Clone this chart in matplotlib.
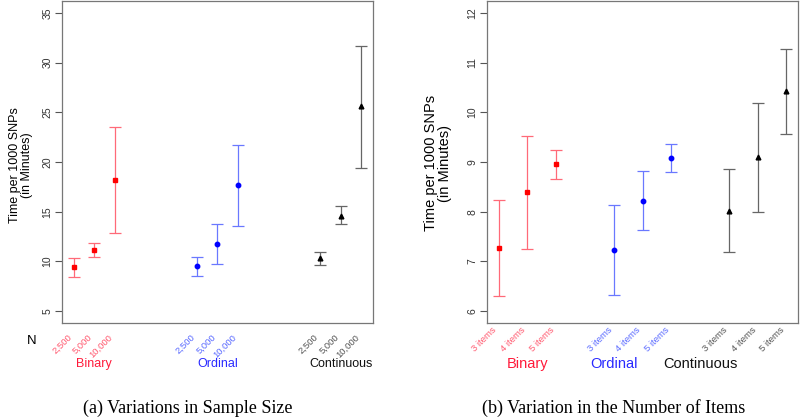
import numpy as np
import matplotlib
matplotlib.use("Agg")
import matplotlib.pyplot as plt
from matplotlib.transforms import blended_transform_factory

plt.rcParams['font.family'] = ['Liberation Sans', 'DejaVu Sans']

# Panel (a): sample size
size_labels = ["2,500", "5,000", "10,000"]
bin_n_mean = [9.4, 11.15, 18.2]
bin_n_lo = [8.45, 10.45, 12.9]
bin_n_hi = [10.3, 11.85, 23.5]
ord_n_mean = [9.5, 11.7, 17.7]
ord_n_lo = [8.55, 9.7, 13.6]
ord_n_hi = [10.45, 13.75, 21.7]
con_n_mean = [10.3, 14.6, 25.6]
con_n_lo = [9.6, 13.75, 19.4]
con_n_hi = [10.95, 15.55, 31.7]

# Panel (b): number of items
item_labels = ["3 items", "4 items", "5 items"]
bin_i_mean = [7.27, 8.39, 8.95]
bin_i_lo = [6.31, 7.25, 8.65]
bin_i_hi = [8.23, 9.52, 9.25]
ord_i_mean = [7.23, 8.22, 9.08]
ord_i_lo = [6.33, 7.63, 8.79]
ord_i_hi = [8.13, 8.81, 9.37]
con_i_mean = [8.01, 9.11, 10.42]
con_i_lo = [7.18, 8.0, 9.57]
con_i_hi = [8.85, 10.19, 11.27]

groups = ["Binary", "Ordinal", "Continuous"]
point_colors = ["#ff0000", "#0000ff", "#000000"]
bar_colors = ["#ff6a78", "#6a78ff", "#666666"]
tick_colors = ["#ff5a70", "#5a6aff", "#555555"]
label_colors = ["#ff1a3a", "#2a2aff", "#111111"]
markers = ["s", "o", "^"]
marker_sizes = [3.2, 3.2, 3.4]

W, H = 800, 419
fig = plt.figure(figsize=(W / 100, H / 100), dpi=100)


def fx(px):
    return px / W


def fy(py):
    return (H - py) / H


ax1 = fig.add_axes([fx(62), fy(323), fx(311), (323 - 1) / H])
ax2 = fig.add_axes([fx(487), fy(323), fx(311), (323 - 1) / H])


def draw_panel(ax, pos, means, los, his, ticklabels, ylim, xlim, yticks,
               lab_x, lab_size, tick_pad):
    all_x, all_lab, all_col = [], [], []
    for g in range(3):
        m = np.array(means[g])
        lo = np.array(los[g])
        hi = np.array(his[g])
        ax.errorbar(pos[g], m, yerr=[m - lo, hi - m], fmt="none",
                    ecolor=bar_colors[g], elinewidth=0.9, capsize=4.5,
                    capthick=0.9)
        ax.plot(pos[g], m, linestyle="none", marker=markers[g],
                color=point_colors[g], markersize=marker_sizes[g])
        all_x += list(pos[g])
        all_lab += ticklabels
        all_col += [tick_colors[g]] * 3
    ax.set_xlim(*xlim)
    ax.set_ylim(*ylim)
    ax.set_yticks(yticks)
    ax.tick_params(axis="y", length=5, width=0.8, color="#555555",
                   labelsize=7.5, labelcolor="#333333", pad=2,
                   labelrotation=90)
    for t in ax.get_yticklabels():
        t.set_va("center")
    ax.set_xticks(all_x)
    ax.set_xticklabels(all_lab, rotation=45, ha="right", fontsize=6.8)
    for t, c in zip(ax.get_xticklabels(), all_col):
        t.set_color(c)
    ax.tick_params(axis="x", length=0, pad=tick_pad)
    for s in ax.spines.values():
        s.set_color("#777777")
        s.set_linewidth(0.9)
    tr = blended_transform_factory(ax.transData, fig.transFigure)
    for g in range(3):
        ax.text(lab_x[g], fy(364), groups[g], transform=tr, ha="center",
                va="center", fontsize=lab_size, color=label_colors[g])


draw_panel(ax1, [[1, 2, 3], [7, 8, 9], [13, 14, 15]],
           [bin_n_mean, ord_n_mean, con_n_mean],
           [bin_n_lo, ord_n_lo, con_n_lo],
           [bin_n_hi, ord_n_hi, con_n_hi],
           size_labels, (3.8, 36.2), (0.44, 15.56), [5, 10, 15, 20, 25, 30, 35],
           [2, 8, 14], 9, 7)
draw_panel(ax2, [[1, 2, 3], [5, 6, 7], [9, 10, 11]],
           [bin_i_mean, ord_i_mean, con_i_mean],
           [bin_i_lo, ord_i_lo, con_i_lo],
           [bin_i_hi, ord_i_hi, con_i_hi],
           item_labels, (5.76, 12.24), (0.6, 11.4), [6, 7, 8, 9, 10, 11, 12],
           [2, 5, 8], 10.5, 2)

fig.text(fx(32), fy(341), "N", ha="center", va="center", fontsize=9.5)

fig.text(fx(21), fy(165), "Time per 1000 SNPs\n(in Minutes)", rotation=90,
         ha="center", va="center", fontsize=9, linespacing=0.95)
fig.text(fx(438), fy(163), "Time per 1000 SNPs\n(in Minutes)", rotation=90,
         ha="center", va="center", fontsize=10.5, linespacing=1.05)

fig.text(fx(188), fy(408), "(a) Variations in Sample Size", ha="center",
         va="center", fontsize=13, family=["Liberation Serif", "DejaVu Serif"])
fig.text(fx(614), fy(408), "(b) Variation in the Number of Items",
         ha="center", va="center", fontsize=13,
         family=["Liberation Serif", "DejaVu Serif"])

fig.savefig("out.png", dpi=100)
